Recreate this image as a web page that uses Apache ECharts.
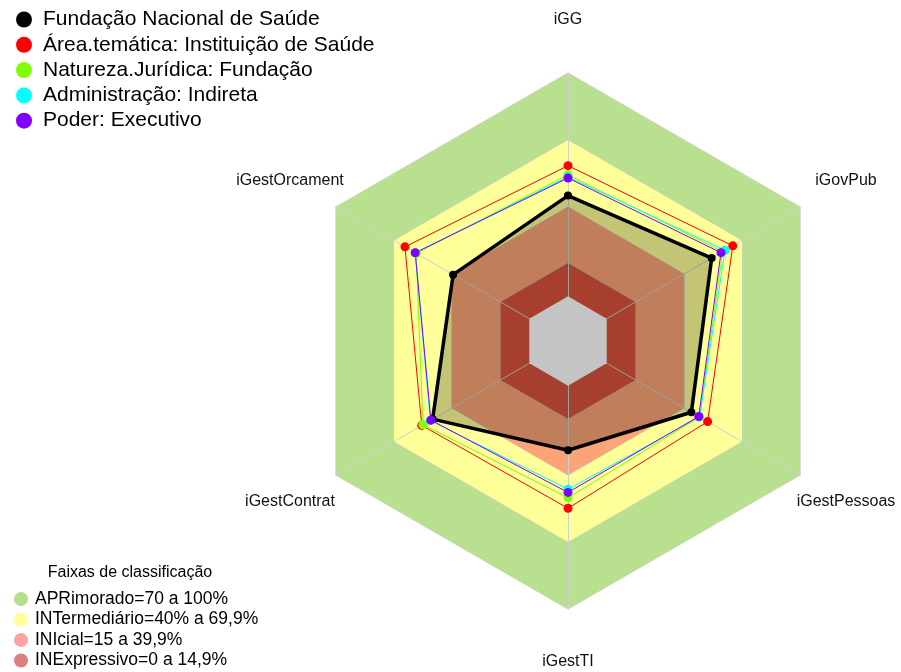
<!DOCTYPE html>
<html>
<head>
<meta charset="utf-8">
<script src="https://cdn.jsdelivr.net/npm/echarts@6/dist/echarts.min.js"></script>
<style>
  html, body { margin: 0; padding: 0; background: #fff; }
  #chart { width: 901px; height: 672px; }
</style>
</head>
<body>
<div id="chart"></div>
<script>
// eixos na ordem do echarts (anti-horário a partir do topo)
const axes = ['iGG', 'iGestOrcament', 'iGestContrat', 'iGestTI', 'iGestPessoas', 'iGovPub']

const seriesNames = [
  'Fundação Nacional de Saúde',
  'Área.temática: Instituição de Saúde',
  'Natureza.Jurídica: Fundação',
  'Administração: Indireta',
  'Poder: Executivo'
]
const seriesColors = ['#000000', '#ff0000', '#7fff00', '#00ffff', '#8000ff']

const fundacaoNacional = [0.451, 0.394, 0.50, 0.289, 0.438, 0.543]
const areaTematica = [0.585, 0.643, 0.556, 0.549, 0.522, 0.652]
const naturezaJuridica = [0.544, 0.585, 0.55, 0.502, 0.48, 0.60]
const administracao = [0.535, 0.59, 0.512, 0.464, 0.48, 0.612]
const poder = [0.530, 0.59, 0.509, 0.478, 0.476, 0.591]
const seriesValues = [fundacaoNacional, areaTematica, naturezaJuridica, administracao, poder]

// faixas de classificação
const bandNames = [
  'APRimorado=70 a 100%',
  'INTermediário=40% a 69,9%',
  'INIcial=15 a 39,9%',
  'INExpressivo=0 a 14,9%'
]
const bandLimits = [1, 0.7, 0.4, 0.149]
const bandColors = ['#b9e08f', '#ffff99', '#fba477', '#d9533d']
const bandLegendColors = ['#b5df8d', '#ffff9c', '#ffa3a3', '#d98080']

const font = 'Liberation Sans, Arial, sans-serif'
const chart = echarts.init(document.getElementById('chart'))

const bandSeries = bandNames.map((name, i) => ({
  name: name,
  type: 'radar',
  z: 1,
  symbol: 'none',
  silent: true,
  lineStyle: { color: '#c8c8c8', width: 1 },
  areaStyle: { color: bandColors[i], opacity: 1 },
  itemStyle: { color: bandColors[i] },
  data: [{ name: name, value: axes.map(() => bandLimits[i]) }]
}))

// miolo do radar (valor 0)
bandSeries.push({
  name: 'centro',
  type: 'radar',
  z: 3,
  symbol: 'none',
  silent: true,
  lineStyle: { width: 0 },
  areaStyle: { color: '#ffffff', opacity: 1 },
  data: [{ name: 'centro', value: axes.map(() => 0) }]
})

const dataSeries = seriesNames.map((name, i) => ({
  name: name,
  type: 'radar',
  z: 4,
  symbol: 'circle',
  symbolSize: i === 0 ? 8 : 9,
  lineStyle: { color: seriesColors[i], width: i === 0 ? 3.5 : 1 },
  itemStyle: { color: seriesColors[i] },
  areaStyle: i === 0 ? { color: '#000000', opacity: 0.23 } : undefined,
  data: [{ name: name, value: seriesValues[i] }]
}))

const option = {
  animation: false,
  backgroundColor: '#ffffff',
  title: {
    text: 'Faixas de classificação',
    left: 125,
    textAlign: 'center',
    top: 560,
    textStyle: { fontFamily: font, fontSize: 16, fontWeight: 'normal', color: '#000' }
  },
  legend: [
    {
      data: seriesNames,
      orient: 'vertical',
      left: 11,
      top: 4,
      icon: 'circle',
      itemWidth: 28,
      itemHeight: 16,
      itemGap: 4.3,
      selectedMode: false,
      textStyle: { fontFamily: font, fontSize: 21, lineHeight: 21, color: '#000' }
    },
    {
      data: bandNames.map((n, i) => ({ name: n, itemStyle: { color: bandLegendColors[i] } })),
      orient: 'vertical',
      left: 14,
      top: 590,
      padding: 0,
      icon: 'circle',
      itemWidth: 18,
      itemHeight: 14,
      itemGap: 2.5,
      selectedMode: false,
      textStyle: { fontFamily: font, fontSize: 17.5, lineHeight: 17.5, color: '#000' }
    }
  ],
  radar: {
    center: [568, 341],
    radius: 268,
    startAngle: 90,
    shape: 'polygon',
    z: 2,
    nameGap: 53,
    indicator: axes.map(name => ({ name: name, min: -0.2, max: 1 })),
    axisName: {
      color: '#111',
      fontFamily: font,
      fontSize: 16,
      align: 'center',
      verticalAlign: 'middle'
    },
    axisLine: { lineStyle: { color: '#cfcfcf', width: 1 } },
    splitLine: { show: false },
    splitArea: { show: false },
    axisTick: { show: false },
    axisLabel: { show: false }
  },
  series: bandSeries.concat(dataSeries)
}

chart.setOption(option)
</script>
</body>
</html>
